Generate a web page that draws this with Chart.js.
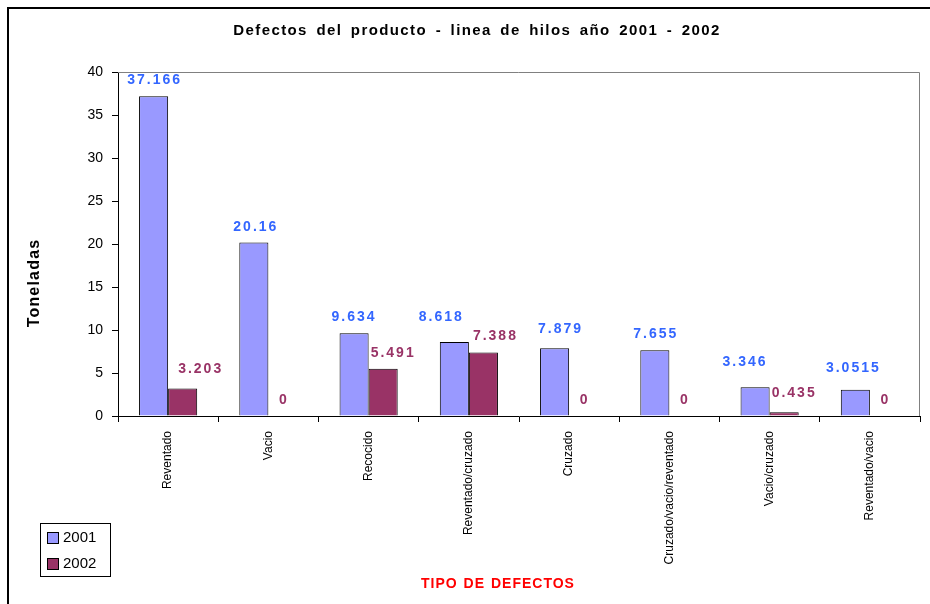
<!DOCTYPE html>
<html>
<head>
<meta charset="utf-8">
<script src="https://cdn.jsdelivr.net/npm/chart.js@4.4.1/dist/chart.umd.min.js"></script>
<style>
  html, body { margin: 0; padding: 0; background: #fff; }
  canvas { display: block; }
</style>
</head>
<body>
<canvas id="chart" width="930" height="604"></canvas>
<script>
const chartTitle = 'Defectos del producto - linea de hilos año 2001 - 2002';
const yTitle = 'Toneladas';
const xTitle = 'TIPO DE DEFECTOS';
const categories = ['Reventado', 'Vacio', 'Recocido', 'Reventado/cruzado', 'Cruzado',
  'Cruzado/vacio/reventado', 'Vacio/cruzado', 'Reventado/vacio'];
const seriesNames = ['2001', '2002'];
const values2001 = [37.166, 20.16, 9.634, 8.618, 7.879, 7.655, 3.346, 3.0515];
const values2002 = [3.203, 0, 5.491, 7.388, 0, 0, 0.435, 0];
const yMin = 0, yMax = 40, yStep = 5;

const FONT = '"Liberation Sans", Arial, sans-serif';
const labelColors = ['#3366FF', '#993366'];
// small nudges for the value labels, like the original where labels were moved apart
const labelNudge = [
  [[0, 0], [1, 0], [-1, 0], [-14, 9], [5, 3], [0, 0], [-11, 9], [-3, 6]],
  [[17, 3], [0, 0], [9, 0], [11, 0], [0, 0], [0, 0], [9, 3], [0, 0]]
];

// frame, plot border, titles, legend and value labels
const decor = {
  id: 'decor',
  beforeDraw(chart) {
    const ctx = chart.ctx;
    ctx.save();
    ctx.fillStyle = '#fff';
    ctx.fillRect(0, 0, chart.width, chart.height);
    ctx.strokeStyle = '#000';
    ctx.lineWidth = 2;
    ctx.beginPath();
    ctx.moveTo(8, chart.height);
    ctx.lineTo(8, 8);
    ctx.lineTo(chart.width, 8);
    ctx.stroke();
    ctx.restore();
  },
  afterDraw(chart) {
    const ctx = chart.ctx;
    const a = chart.chartArea;
    ctx.save();
    // plot area top/right border
    ctx.strokeStyle = '#808080';
    ctx.lineWidth = 1;
    ctx.beginPath();
    ctx.moveTo(a.left, a.top + 0.5);
    ctx.lineTo(a.right - 0.5, a.top + 0.5);
    ctx.lineTo(a.right - 0.5, a.bottom);
    ctx.stroke();

    ctx.textAlign = 'center';
    ctx.textBaseline = 'middle';
    ctx.fillStyle = '#000';
    ctx.letterSpacing = '1.4px';
    ctx.wordSpacing = '3px';
    ctx.font = 'bold 15px ' + FONT;
    ctx.fillText(chartTitle, 477, 31);

    ctx.fillStyle = '#FF0000';
    ctx.letterSpacing = '1px';
    ctx.wordSpacing = '1px';
    ctx.font = 'bold 14px ' + FONT;
    ctx.fillText(xTitle, 498, 584);
    ctx.wordSpacing = '0px';

    ctx.save();
    ctx.translate(35, 283);
    ctx.rotate(-Math.PI / 2);
    ctx.fillStyle = '#000';
    ctx.font = 'bold 16px ' + FONT;
    ctx.letterSpacing = '1.2px';
    ctx.fillText(yTitle, 0, 0);
    ctx.restore();

    // legend
    ctx.letterSpacing = '0px';
    ctx.strokeStyle = '#000';
    ctx.strokeRect(40.5, 523.5, 70, 53);
    chart.data.datasets.forEach((ds, i) => {
      const y = 538 + i * 26;
      ctx.fillStyle = ds.backgroundColor;
      ctx.fillRect(47.5, y - 5.5, 11, 11);
      ctx.strokeRect(47.5, y - 5.5, 11, 11);
      ctx.fillStyle = '#000';
      ctx.font = '15px ' + FONT;
      ctx.textAlign = 'left';
      ctx.fillText(ds.label, 63, y);
    });

    // value labels
    ctx.textAlign = 'center';
    ctx.textBaseline = 'alphabetic';
    ctx.font = 'bold 14px ' + FONT;
    ctx.letterSpacing = '2px';
    chart.data.datasets.forEach((ds, i) => {
      const meta = chart.getDatasetMeta(i);
      ctx.fillStyle = labelColors[i];
      meta.data.forEach((bar, j) => {
        const [dx, dy] = labelNudge[i][j];
        ctx.fillText(String(ds.data[j]), bar.x + 1 + dx, bar.y - 12 - dy);
      });
    });
    ctx.restore();
  }
};

new Chart(document.getElementById('chart'), {
  type: 'bar',
  data: {
    labels: categories,
    datasets: [
      { label: seriesNames[0], data: values2001, backgroundColor: '#9999FF',
        borderColor: '#000', borderWidth: 1 },
      { label: seriesNames[1], data: values2002, backgroundColor: '#993366',
        borderColor: '#000', borderWidth: 1 }
    ]
  },
  options: {
    responsive: false,
    animation: false,
    categoryPercentage: 0.58,
    barPercentage: 1.0,
    layout: { padding: { top: 72, right: 10, left: 0, bottom: 0 } },
    plugins: {
      legend: { display: false },
      title: { display: false },
      tooltip: { enabled: false }
    },
    scales: {
      x: {
        afterFit(scale) { scale.height = 188; },
        grid: { drawOnChartArea: false, drawTicks: true, tickLength: 6, color: '#000', offset: true },
        border: { color: '#000', width: 1 },
        ticks: {
          color: '#000', font: { family: FONT, size: 12 },
          minRotation: 90, maxRotation: 90, autoSkip: false, padding: 9
        }
      },
      y: {
        min: yMin, max: yMax,
        afterFit(scale) { scale.width = 118; },
        grid: { drawOnChartArea: false, drawTicks: true, tickLength: 6, color: '#000' },
        border: { color: '#000', width: 1 },
        ticks: { stepSize: yStep, color: '#000', font: { family: FONT, size: 14 }, padding: 9 }
      }
    }
  },
  plugins: [decor]
});
</script>
</body>
</html>
